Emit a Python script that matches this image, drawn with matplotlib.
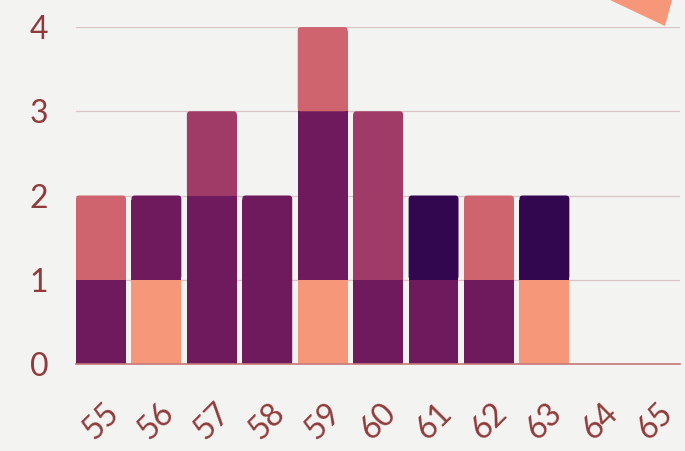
import matplotlib.pyplot as plt
from matplotlib.patches import Polygon, FancyBboxPatch
import numpy as np

# categories and stacked series (bottom to top)
categories = ['55', '56', '57', '58', '59', '60', '61', '62', '63', '64', '65']
salmon = [0, 1, 0, 0, 1, 0, 0, 0, 1, 0, 0]
purple = [1, 1, 2, 2, 2, 1, 1, 1, 0, 0, 0]
magenta = [0, 0, 1, 0, 0, 2, 0, 0, 0, 0, 0]
pink = [1, 0, 0, 0, 1, 0, 0, 1, 0, 0, 0]
vdark = [0, 0, 0, 0, 0, 0, 1, 0, 1, 0, 0]

series = [salmon, purple, magenta, pink, vdark]
colors = ['#f59778', '#6e1a5c', '#a03a66', '#d0646e', '#33074f']

text_color = '#8f3b3b'
bg = '#f3f3f1'

plt.rcParams['font.family'] = ['Lato', 'DejaVu Sans']

fig = plt.figure(figsize=(6.85, 4.51), dpi=100, facecolor=bg)
ax = fig.add_axes([0.111, 0.193, 0.882, 0.747])
ax.set_facecolor(bg)

x = np.arange(len(categories))
width = 0.9
aspect = 55.4 / 84.25  # y data units per x data unit, in pixels
bottom = np.zeros(len(categories))
totals = np.sum(series, axis=0)
for vals, c in zip(series, colors):
    vals = np.array(vals, dtype=float)
    for i in range(len(x)):
        if vals[i] <= 0:
            continue
        if bottom[i] + vals[i] == totals[i]:
            # top segment: rounded top corners, square bottom
            p = FancyBboxPatch((x[i] - width / 2, bottom[i]), width, vals[i],
                               boxstyle='round,pad=0,rounding_size=0.06',
                               mutation_aspect=aspect,
                               facecolor=c, edgecolor='none', zorder=3)
            ax.add_patch(p)
            ax.bar(x[i], vals[i] - 0.05, width, bottom=bottom[i], color=c,
                   linewidth=0, zorder=3)
        else:
            ax.bar(x[i], vals[i], width, bottom=bottom[i], color=c,
                   linewidth=0, zorder=3)
    bottom += vals

ax.set_xlim(-0.45, 10.45)
ax.set_ylim(0, 4)
ax.set_yticks([0, 1, 2, 3, 4])
ax.set_xticks(x)
ax.set_xticklabels(categories, rotation=45, ha='center', va='top')
ax.tick_params(axis='both', length=0, colors=text_color, labelsize=23)
ax.tick_params(axis='y', pad=20)
ax.tick_params(axis='x', pad=24)

ax.grid(axis='y', color='#d9c4c4', linewidth=0.9, zorder=0)
for s in ['top', 'right', 'left']:
    ax.spines[s].set_visible(False)
ax.spines['bottom'].set_color('#c77777')
ax.spines['bottom'].set_linewidth(1.2)
ax.spines['bottom'].set_zorder(4)

# decorative corner triangle
tri = Polygon([[610 / 685, 1.0], [672 / 685, 1.0], [665 / 685, 1 - 26 / 451]],
              closed=True, transform=fig.transFigure, facecolor='#f59778',
              edgecolor='none')
fig.patches.append(tri)

fig.savefig('out.png', dpi=100, facecolor=bg)
